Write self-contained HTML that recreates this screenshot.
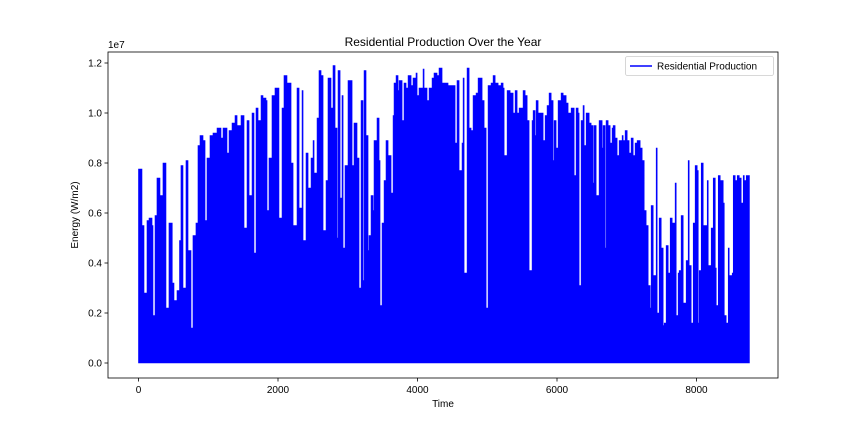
<!DOCTYPE html>
<html><head><meta charset="utf-8"><style>
body{margin:0;background:#fff;}
svg{display:block;font-family:"Liberation Sans","DejaVu Sans",sans-serif;}
</style></head><body>
<svg id="chart" width="864" height="432"></svg>
<script>
const hours=[0,50,79,122,151,194,208,237,265,308,351,394,437,484,509,552,588,609,638,681,710,753,781,824,853,882,925,954,982,1025,1068,1126,1183,1212,1269,1298,1341,1384,1413,1470,1513,1556,1585,1628,1656,1685,1714,1757,1785,1828,1843,1871,1914,1957,2014,2058,2086,2129,2187,2216,2273,2302,2345,2359,2402,2431,2474,2503,2517,2560,2588,2617,2646,2689,2717,2760,2789,2818,2847,2861,2890,2918,2933,2961,3004,3062,3090,3133,3162,3191,3219,3234,3262,3291,3305,3334,3363,3377,3420,3449,3463,3492,3521,3549,3578,3621,3650,3664,3693,3721,3736,3779,3807,3836,3865,3908,3936,3979,3994,4022,4080,4094,4137,4166,4209,4237,4280,4309,4352,4395,4438,4496,4539,4567,4596,4639,4654,4668,4711,4740,4768,4797,4840,4869,4926,4955,4984,5012,5055,5084,5113,5156,5199,5227,5242,5285,5328,5371,5400,5428,5457,5514,5543,5572,5600,5643,5658,5686,5701,5729,5772,5801,5830,5858,5887,5916,5944,5959,5987,6016,6059,6088,6131,6159,6203,6246,6274,6303,6317,6346,6374,6389,6418,6461,6489,6518,6532,6561,6604,6647,6661,6690,6704,6733,6762,6790,6805,6833,6862,6891,6934,6948,6977,7006,7034,7063,7092,7120,7149,7192,7221,7250,7278,7307,7336,7350,7379,7422,7436,7465,7494,7522,7537,7565,7594,7623,7651,7694,7709,7737,7752,7780,7809,7852,7881,7895,7924,7953,7981,8010,8025,8039,8068,8096,8125,8154,8168,8211,8240,8269,8283,8312,8340,8383,8398,8426,8455,8469,8512,8527,8555,8584,8613,8641,8670,8685,8713,8730];
const peaks=[0.776,0.55,0.28,0.57,0.58,0.55,0.19,0.59,0.74,0.67,0.80,0.22,0.56,0.32,0.25,0.29,0.49,0.79,0.30,0.81,0.45,0.14,0.51,0.56,0.87,0.91,0.89,0.57,0.82,0.91,0.92,0.94,0.90,0.94,0.84,0.93,0.96,0.99,0.95,0.99,0.54,0.97,0.67,1.0,0.44,1.02,0.97,1.07,1.06,1.05,0.61,0.82,1.07,1.10,0.58,1.02,1.15,1.12,0.80,0.55,1.10,0.62,1.09,0.49,0.84,0.70,0.82,0.89,0.76,0.98,1.17,1.15,0.53,0.73,1.14,1.02,1.19,0.94,0.50,1.17,0.66,1.07,0.46,0.79,1.13,0.79,0.96,0.82,0.30,1.05,0.33,1.17,0.91,0.45,0.51,0.67,0.61,0.89,0.98,0.81,0.23,0.56,0.73,0.89,0.83,0.68,0.99,1.12,1.15,1.09,1.13,0.97,1.12,1.10,1.15,1.11,1.14,1.16,1.07,1.10,1.176,1.10,1.05,1.10,1.14,1.16,1.15,1.18,1.12,1.12,1.11,1.11,0.88,1.13,0.77,0.88,1.14,0.36,1.18,0.94,0.93,1.07,1.08,1.14,1.05,0.94,0.22,1.11,1.12,1.15,1.12,1.11,1.12,1.10,0.83,1.09,1.08,1.0,1.09,1.0,1.02,1.09,1.07,0.97,0.37,0.97,1.01,0.91,1.05,1.0,1.0,0.89,0.99,1.03,1.08,1.05,0.81,0.97,0.86,1.05,1.08,1.07,1.04,1.0,1.02,0.75,1.02,1.0,0.31,0.97,1.03,0.87,1.0,0.96,0.95,0.72,0.95,0.67,0.97,0.86,0.95,0.46,0.97,0.95,0.88,0.94,0.95,0.90,0.83,0.89,0.91,0.89,0.93,0.89,0.84,0.90,0.83,0.88,0.89,0.86,0.81,0.61,0.55,0.31,0.22,0.63,0.35,0.86,0.20,0.58,0.46,0.15,0.16,0.47,0.36,0.58,0.56,0.72,0.19,0.36,0.37,0.59,0.24,0.41,0.81,0.39,0.16,0.56,0.79,0.77,0.16,0.37,0.80,0.55,0.55,0.73,0.39,0.54,0.74,0.38,0.23,0.75,0.73,0.64,0.19,0.16,0.46,0.35,0.36,0.75,0.73,0.75,0.74,0.64,0.75,0.73,0.75,0.75];
const endHour=8759;
const xTicks=[0,2000,4000,6000,8000];
const yTicks=[0,0.2,0.4,0.6,0.8,1.0,1.2];
const yTickLabels=["0.0","0.2","0.4","0.6","0.8","1.0","1.2"];

const NS="http://www.w3.org/2000/svg";
const svg=document.getElementById('chart');
const L=108,R=778,T=52,B=378;
const xs=h=>138.5+h*(139.5/2000);
const ys=v=>363-v*250;
function mk(tag,attrs,parent){const e=document.createElementNS(NS,tag);for(const k in attrs)e.setAttribute(k,attrs[k]);(parent||svg).appendChild(e);return e;}

// series
let d="M"+xs(hours[0])+","+ys(0);
for(let i=0;i<hours.length;i++){
  const x0=xs(hours[i]);const x1=xs(i+1<hours.length?hours[i+1]:endHour);
  d+=" L"+x0+","+ys(peaks[i])+" L"+x1+","+ys(peaks[i]);
}
d+=" L"+xs(endHour)+","+ys(0)+" Z";
const area=mk('path',{d:d,fill:'#0000ff',stroke:'#0000ff','stroke-width':0.6});



// frame
const frame=mk('rect',{x:L,y:T,width:R-L,height:B-T,fill:'none',stroke:'#000','stroke-width':0.8});



xTicks.forEach(t=>{
  const x=xs(t);
  mk('line',{x1:x,x2:x,y1:B,y2:B+3.5,stroke:'#000','stroke-width':0.8});
  const tx=mk('text',{x:x,y:B+15,'font-size':10,'text-anchor':'middle',fill:'#000'});
  tx.textContent=String(t);
  
  
});
yTicks.forEach((t,i)=>{
  const y=ys(t);
  mk('line',{x1:L-3.5,x2:L,y1:y,y2:y,stroke:'#000','stroke-width':0.8});
  const tx=mk('text',{x:L-6,y:y+3.5,'font-size':10,'text-anchor':'end',fill:'#000'});
  tx.textContent=yTickLabels[i];
  
  
});
</script>
<script>
(function(){
const NS="http://www.w3.org/2000/svg";const svg=document.getElementById('chart');
function mk(tag,attrs){const e=document.createElementNS(NS,tag);for(const k in attrs)e.setAttribute(k,attrs[k]);svg.appendChild(e);return e;}
let e=mk('text',{x:108,y:48,'font-size':10});e.textContent='1e7';


e=mk('text',{x:443,y:46,'font-size':12,'text-anchor':'middle'});e.textContent='Residential Production Over the Year';


e=mk('text',{x:443,y:407,'font-size':10,'text-anchor':'middle'});e.textContent='Time';


e=mk('text',{x:78,y:215,'font-size':10,'text-anchor':'middle',transform:'rotate(-90 78 215)'});e.textContent='Energy (W/m2)';


e=mk('rect',{x:625.5,y:56.5,width:148,height:19,rx:2,fill:'#fff','fill-opacity':0.8,stroke:'#ccc','stroke-width':0.8});


e=mk('line',{x1:630,x2:652,y1:66,y2:66,stroke:'#0000ff','stroke-width':1.5});


e=mk('text',{x:657,y:69.5,'font-size':10});e.textContent='Residential Production';


})();
</script>
</body></html>
